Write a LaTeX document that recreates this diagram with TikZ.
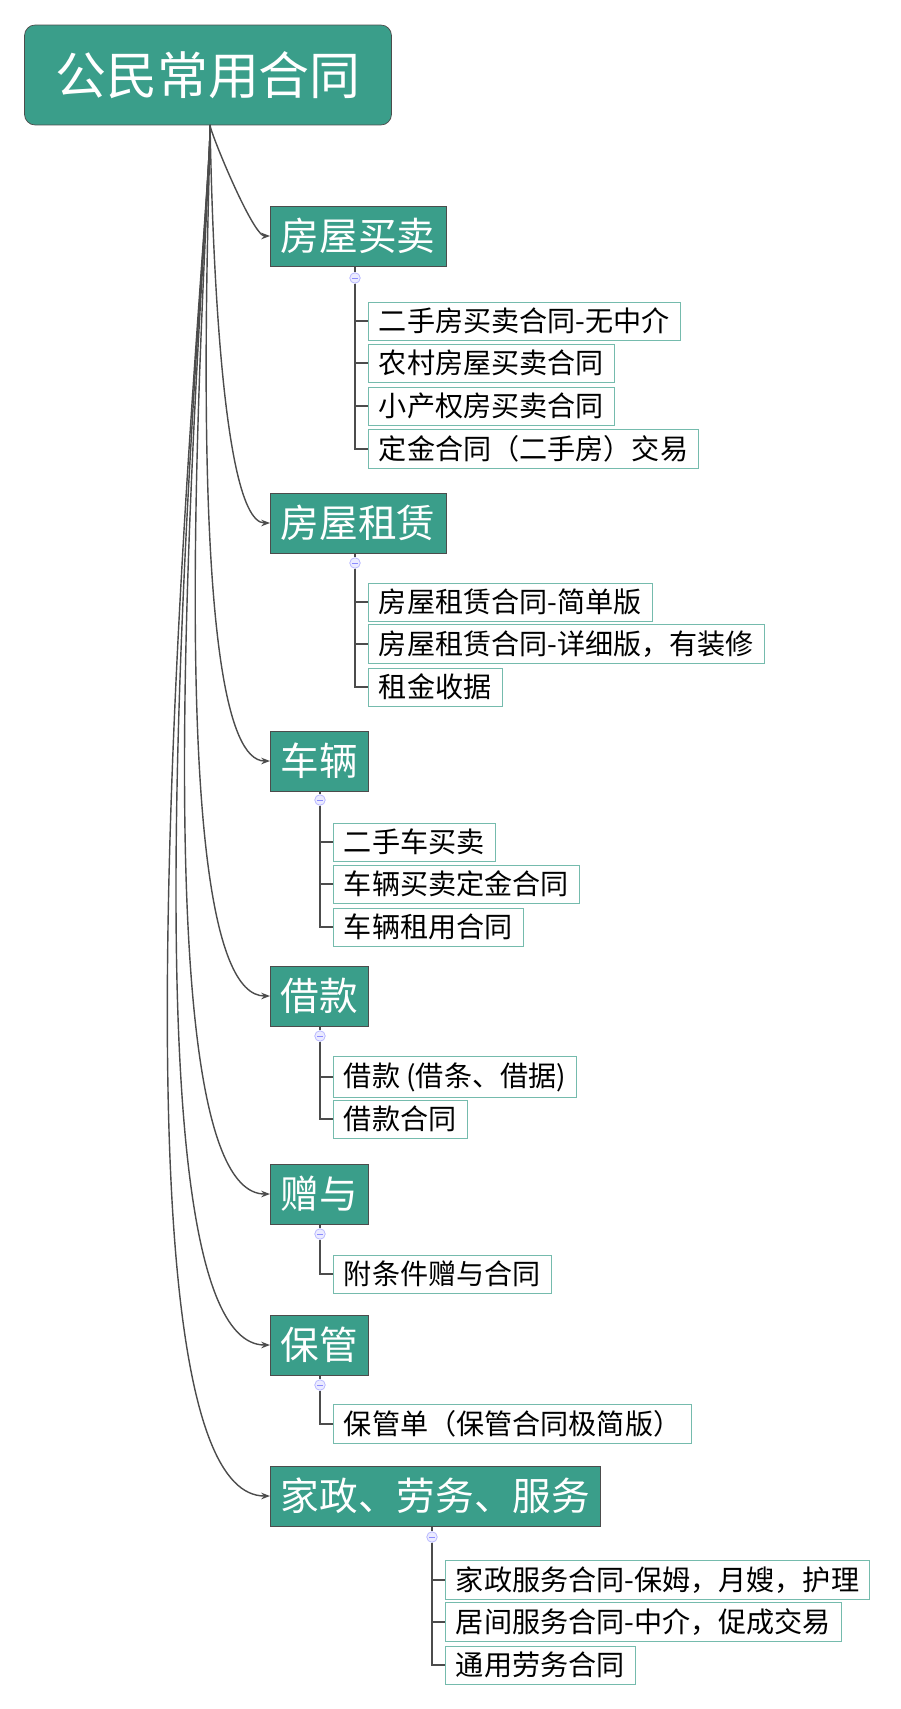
\documentclass[tikz,border=0pt]{standalone}
\usepackage{fontspec}
\setmainfont{Noto Sans CJK SC}
\usetikzlibrary{positioning,arrows.meta}
\definecolor{topicteal}{RGB}{58,158,138}

\begin{document}
\begin{tikzpicture}[
    x=0.02cm, y=-0.02cm,
    root/.style={rectangle, draw=black!70, fill=topicteal, text=white, rounded corners=6pt, minimum width=7.34cm, minimum height=2cm, font=\fontsize{29}{33}\selectfont},
    topic/.style={rectangle, draw=black!70, fill=topicteal, text=white, anchor=west, minimum height=1.2cm, inner xsep=6pt, font=\fontsize{22}{25}\selectfont},
    leaf/.style={rectangle, draw=topicteal!70, fill=white, anchor=west, minimum height=0.76cm, inner xsep=6pt, font=\fontsize{16}{18}\selectfont},
    knob/.style={circle, draw=blue!30, fill=blue!8, inner sep=0pt, minimum size=6pt},
    branch/.style={draw=black!70, thick, -{Stealth[length=5pt]}},
    twig/.style={draw=black!70, semithick}
]
\useasboundingbox (0,0) rectangle (900,1709);

% Root
\node [root] (root) at (208,75) {公民常用合同};
\coordinate (stem) at (210,125);

% Topics
\node [topic] (house_sale) at (270,236) {房屋买卖};
\node [topic] (house_rent) at (270,523) {房屋租赁};
\node [topic] (vehicle) at (270,761) {车辆};
\node [topic] (loan) at (270,996) {借款};
\node [topic] (gift) at (270,1194) {赠与};
\node [topic] (custody) at (270,1345) {保管};
\node [topic] (service) at (270,1496) {家政、劳务、服务};

% Knobs
\node [knob] (k1) at (355,278) {};
\node [knob] (k2) at (355,563) {};
\node [knob] (k3) at (320,800) {};
\node [knob] (k4) at (320,1036) {};
\node [knob] (k5) at (320,1234) {};
\node [knob] (k6) at (320,1385) {};
\node [knob] (k7) at (432,1537) {};
\foreach \k in {k1,k2,k3,k4,k5,k6,k7}
  \draw [blue!45, thin] ([xshift=-1.5pt]\k.center) -- ([xshift=1.5pt]\k.center);

% Leaves
\node [leaf] (hs1) at (368,321) {二手房买卖合同-无中介};
\node [leaf] (hs2) at (368,363) {农村房屋买卖合同};
\node [leaf] (hs3) at (368,406) {小产权房买卖合同};
\node [leaf] (hs4) at (368,449) {定金合同（二手房）交易};
\node [leaf] (hr1) at (368,602) {房屋租赁合同-简单版};
\node [leaf] (hr2) at (368,644) {房屋租赁合同-详细版，有装修};
\node [leaf] (hr3) at (368,687) {租金收据};
\node [leaf] (v1) at (333,842) {二手车买卖};
\node [leaf] (v2) at (333,884) {车辆买卖定金合同};
\node [leaf] (v3) at (333,927) {车辆租用合同};
\node [leaf] (l1) at (333,1077) {借款 (借条、借据)};
\node [leaf] (l2) at (333,1119) {借款合同};
\node [leaf] (g1) at (333,1274) {附条件赠与合同};
\node [leaf] (c1) at (333,1424) {保管单（保管合同极简版）};
\node [leaf] (s1) at (445,1580) {家政服务合同-保姆，月嫂，护理};
\node [leaf] (s2) at (445,1622) {居间服务合同-中介，促成交易};
\node [leaf] (s3) at (445,1665) {通用劳务合同};

% Branches
\draw [draw=black!70, thick] (root.south -| stem) -- (stem);
\foreach \t in {house_sale,house_rent,vehicle,loan,gift,custody,service}
  \path [branch] (stem) to[out=-88, in=180, out looseness=0.15, in looseness=0.35] (\t.west);

% Twigs
\foreach \k/\t in {k1/house_sale,k2/house_rent,k3/vehicle,k4/loan,k5/gift,k6/custody,k7/service}
  \path [twig] (\t.south -| \k) -- (\k);
\foreach \k/\l in {k1/hs1,k1/hs2,k1/hs3,k1/hs4,k2/hr1,k2/hr2,k2/hr3,k3/v1,k3/v2,k3/v3,k4/l1,k4/l2,k5/g1,k6/c1,k7/s1,k7/s2,k7/s3}
  \path [twig] (\k.south) |- (\l.west);

\end{tikzpicture}
\end{document}
